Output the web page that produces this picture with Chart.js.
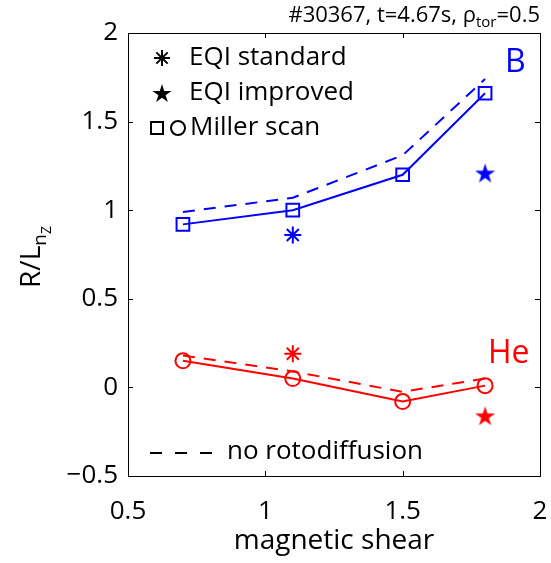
<!DOCTYPE html>
<html>
<head>
<meta charset="utf-8">
<script src="https://cdn.jsdelivr.net/npm/chart.js@4.4.1/dist/chart.umd.min.js"></script>
<style>
  html, body { margin: 0; padding: 0; background: #fff; }
  #wrap { width: 551px; height: 563px; }
</style>
</head>
<body>
<div id="wrap"><canvas id="chart" width="551" height="563"></canvas></div>
<script>
// ================= Data =================
const shear = [0.7, 1.1, 1.5, 1.8];
const bMiller = [0.92, 1.00, 1.20, 1.66];
const bNoRoto = [0.99, 1.07, 1.31, 1.74];
const heMiller = [0.15, 0.05, -0.08, 0.01];
const heNoRoto = [0.18, 0.09, -0.025, 0.05];
const eqiStdShear = [1.1];
const eqiStdB = [0.86];
const eqiStdHe = [0.19];
const eqiImpShear = [1.8];
const eqiImpB = [1.21];
const eqiImpHe = [-0.16];
const xTicks = [0.5, 1, 1.5, 2];
const xTickLabels = ['0.5', '1', '1.5', '2'];
const yTicks = [-0.5, 0, 0.5, 1, 1.5, 2];
const yTickLabels = ['\u22120.5', '0', '0.5', '1', '1.5', '2'];

const BLUE = '#0000ff', RED = '#ff0000';
const FONT = '"Open Sans", "DejaVu Sans", sans-serif';

// ================= Helpers =================
function pts(xs, ys) {
    return xs.map((x, i) => ({ x: x, y: ys[i] }));
}

function starPath(ctx, cx, cy, R) {
    const r = R * 0.382;
    ctx.beginPath();
    for (let i = 0; i < 10; i++) {
        const a = -Math.PI / 2 + i * Math.PI / 5;
        const rr = i % 2 === 0 ? R : r;
        const px = cx + rr * Math.cos(a), py = cy + rr * Math.sin(a);
        if (i === 0) ctx.moveTo(px, py); else ctx.lineTo(px, py);
    }
    ctx.closePath();
}

function makeStar(color, size) {
    const cv = document.createElement('canvas');
    cv.width = size; cv.height = size;
    const c = cv.getContext('2d');
    c.fillStyle = color;
    starPath(c, size / 2, size / 2 + 1, size / 2);
    c.fill();
    return cv;
}

function drawAsterisk(ctx, x, y, r) {
    ctx.beginPath();
    for (let i = 0; i < 4; i++) {
        const a = i * Math.PI / 4;
        ctx.moveTo(x - r * Math.cos(a), y - r * Math.sin(a));
        ctx.lineTo(x + r * Math.cos(a), y + r * Math.sin(a));
    }
    ctx.stroke();
}

// ================= Frame, ticks and texts =================
const framePlugin = {
    id: 'frame',
    afterDatasetsDraw(chart) {
        const ctx = chart.ctx;
        const a = chart.chartArea;
        const xs = chart.scales.x, ys = chart.scales.y;
        ctx.save();
        ctx.strokeStyle = '#000';
        ctx.lineWidth = 1;
        ctx.strokeRect(Math.round(a.left) + 0.5, Math.round(a.top) + 0.5,
            Math.round(a.right - a.left), Math.round(a.bottom - a.top));
        const tl = 5;
        ctx.beginPath();
        xTicks.forEach(v => {
            const px = Math.round(xs.getPixelForValue(v)) + 0.5;
            ctx.moveTo(px, a.bottom); ctx.lineTo(px, a.bottom - tl);
            ctx.moveTo(px, a.top); ctx.lineTo(px, a.top + tl);
        });
        yTicks.forEach(v => {
            const py = Math.round(ys.getPixelForValue(v)) + 0.5;
            ctx.moveTo(a.left, py); ctx.lineTo(a.left + tl, py);
            ctx.moveTo(a.right, py); ctx.lineTo(a.right - tl, py);
        });
        ctx.stroke();

        ctx.fillStyle = '#000';
        ctx.textBaseline = 'alphabetic';

        // title, right aligned
        const parts = [['#30367, t=4.67s, \u03c1', 22, 0], ['tor', 15, 5], ['=0.5', 22, 0]];
        let w = 0;
        parts.forEach(p => { ctx.font = p[1] + 'px ' + FONT; w += ctx.measureText(p[0]).width; });
        let tx = a.right - w;
        parts.forEach(p => {
            ctx.font = p[1] + 'px ' + FONT;
            ctx.fillText(p[0], tx, 22 + p[2]);
            tx += ctx.measureText(p[0]).width;
        });

        // x axis title
        ctx.font = '28px ' + FONT;
        ctx.textAlign = 'center';
        ctx.fillText('magnetic shear', (a.left + a.right) / 2, 549);

        // y axis title, rotated
        ctx.save();
        ctx.translate(40, 257);
        ctx.rotate(-Math.PI / 2);
        const yp = [['R/L', 28, 0], ['n', 19, 6], ['Z', 14, 11]];
        let yw = 0;
        yp.forEach(p => { ctx.font = p[1] + 'px ' + FONT; yw += ctx.measureText(p[0]).width; });
        let yx = -yw / 2;
        ctx.textAlign = 'left';
        yp.forEach(p => {
            ctx.font = p[1] + 'px ' + FONT;
            ctx.fillText(p[0], yx, p[2]);
            yx += ctx.measureText(p[0]).width;
        });
        ctx.restore();

        // legend
        ctx.textAlign = 'left';
        ctx.textBaseline = 'middle';
        ctx.font = '26px ' + FONT;
        ctx.lineWidth = 2;
        ctx.strokeStyle = '#000';
        drawAsterisk(ctx, 162, 58, 8);
        ctx.fillText('EQI standard', 189, 58);
        starPath(ctx, 162, 94, 10);
        ctx.fill();
        ctx.fillText('EQI improved', 189, 93);
        ctx.strokeRect(151, 122, 12, 12);
        ctx.beginPath();
        ctx.arc(178, 128, 7, 0, Math.PI * 2);
        ctx.stroke();
        ctx.fillText('Miller scan', 190, 128);

        ctx.setLineDash([12, 13]);
        ctx.beginPath();
        ctx.moveTo(150, 453); ctx.lineTo(215, 453);
        ctx.stroke();
        ctx.setLineDash([]);
        ctx.fillText('no rotodiffusion', 227, 452);

        // species labels
        ctx.font = '32px ' + FONT;
        ctx.fillStyle = BLUE;
        ctx.fillText('B', 505, 63);
        ctx.fillStyle = RED;
        ctx.fillText('He', 488, 354);
        ctx.restore();
    }
};

// ================= Chart =================
const lineBase = { showLine: true, borderWidth: 2, fill: false, tension: 0 };
const dash = [12, 9];

function noEdgePadding(s) {
    s.paddingLeft = 0; s.paddingRight = 0;
    s.paddingTop = 0; s.paddingBottom = 0;
}

new Chart(document.getElementById('chart').getContext('2d'), {
    type: 'scatter',
    data: {
        datasets: [
            Object.assign({}, lineBase, { data: pts(shear, bNoRoto), borderColor: BLUE, borderDash: dash, pointRadius: 0 }),
            Object.assign({}, lineBase, { data: pts(shear, heNoRoto), borderColor: RED, borderDash: dash, pointRadius: 0 }),
            Object.assign({}, lineBase, { data: pts(shear, bMiller), borderColor: BLUE, pointStyle: 'rect', pointRadius: 9,
                pointBorderWidth: 2, pointBorderColor: BLUE, pointBackgroundColor: 'rgba(0,0,0,0)' }),
            Object.assign({}, lineBase, { data: pts(shear, heMiller), borderColor: RED, pointStyle: 'circle', pointRadius: 7.5,
                pointBorderWidth: 2, pointBorderColor: RED, pointBackgroundColor: 'rgba(0,0,0,0)' }),
            { data: pts(eqiStdShear, eqiStdB), pointStyle: 'star', pointRadius: 8.5, pointBorderWidth: 2, pointBorderColor: BLUE },
            { data: pts(eqiStdShear, eqiStdHe), pointStyle: 'star', pointRadius: 8.5, pointBorderWidth: 2, pointBorderColor: RED },
            { data: pts(eqiImpShear, eqiImpB), pointStyle: makeStar(BLUE, 21), pointRadius: 10 },
            { data: pts(eqiImpShear, eqiImpHe), pointStyle: makeStar(RED, 21), pointRadius: 10 }
        ]
    },
    options: {
        responsive: false,
        devicePixelRatio: 1,
        animation: false,
        events: [],
        clip: false,
        layout: { padding: { top: 33, right: 9, left: 0, bottom: 0 } },
        plugins: { legend: { display: false }, tooltip: { enabled: false } },
        scales: {
            x: {
                type: 'linear', min: 0.5, max: 2,
                afterBuildTicks: s => { s.ticks = xTicks.map(v => ({ value: v })); },
                afterFit: s => { s.height = 87; noEdgePadding(s); },
                grid: { display: false, drawTicks: false },
                border: { display: false },
                ticks: { color: '#000', padding: 20, maxRotation: 0, autoSkip: false,
                    font: { family: FONT, size: 26 },
                    callback: v => xTickLabels[xTicks.indexOf(v)] }
            },
            y: {
                type: 'linear', min: -0.5, max: 2,
                afterBuildTicks: s => { s.ticks = yTicks.map(v => ({ value: v })); },
                afterFit: s => { s.width = 128; noEdgePadding(s); },
                grid: { display: false, drawTicks: false },
                border: { display: false },
                ticks: { color: '#000', padding: 10, autoSkip: false,
                    font: { family: FONT, size: 26 },
                    callback: v => yTickLabels[yTicks.indexOf(v)] }
            }
        }
    },
    plugins: [framePlugin]
});
</script>
</body>
</html>
